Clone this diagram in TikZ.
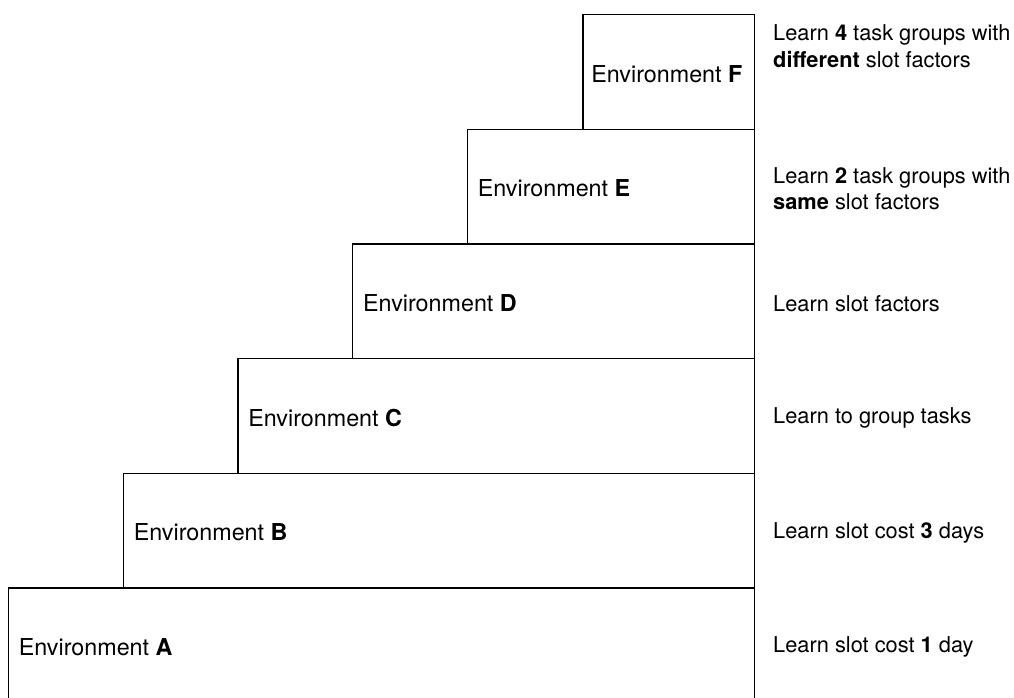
\documentclass[tikz,border=0pt]{standalone}
\usepackage{fontspec}
\setmainfont{TeX Gyre Heros}
\begin{document}
\begin{tikzpicture}[x=1pt,y=-1pt,
  stage/.style={draw, line width=1.4pt, rectangle, inner sep=0pt,
    minimum height=114.7pt, anchor=north east},
  envlabel/.style={anchor=west, inner sep=0pt, font=\fontsize{23.3}{28}\selectfont},
  goal/.style={anchor=west, align=left, inner sep=0pt, font=\fontsize{21.8}{26.5}\selectfont}]
\useasboundingbox (0,0) rectangle (1014,697);
\begin{scope}
  \clip (0,0) rectangle (1014,697);
  % staircase of environments, all sharing the right edge
  \node[stage, minimum width=746pt] (A) at (755,587.3) {};
  \node[stage, minimum width=631pt] (B) at (755,472.6) {};
  \node[stage, minimum width=516.5pt] (C) at (755,357.9) {};
  \node[stage, minimum width=401.7pt] (D) at (755,243.2) {};
  \node[stage, minimum width=287pt] (E) at (755,128.5) {};
  \node[stage, minimum width=171.5pt] (F) at (755,13.8) {};
\end{scope}
% environment names
\node[envlabel] (lA) at ([xshift=11pt,yshift=-2pt]A.west) {Environment \textbf{A}};
\node[envlabel] (lB) at ([xshift=11pt,yshift=-2pt]B.west) {Environment \textbf{B}};
\node[envlabel] (lC) at ([xshift=11pt,yshift=-2pt]C.west) {Environment \textbf{C}};
\node[envlabel] (lD) at ([xshift=11pt,yshift=-2pt]D.west) {Environment \textbf{D}};
\node[envlabel] (lE) at ([xshift=11pt,yshift=-2pt]E.west) {Environment \textbf{E}};
\node[envlabel] (lF) at ([xshift=9pt,yshift=-2pt]F.west) {Environment \textbf{F}};
% what is learned in each environment
\node[goal] (gA) at ([xshift=18pt,yshift=-2pt]A.east) {Learn slot cost \textbf{1} day};
\node[goal] (gB) at ([xshift=18pt,yshift=-2pt]B.east) {Learn slot cost \textbf{3} days};
\node[goal] (gC) at ([xshift=18pt,yshift=-2pt]C.east) {Learn to group tasks};
\node[goal] (gD) at ([xshift=18pt,yshift=-2pt]D.east) {Learn slot factors};
\node[goal] (gE) at ([xshift=18pt,yshift=-2pt]E.east) {Learn \textbf{2} task groups with\\\textbf{same} slot factors};
\node[goal] (gF) at (773,46) {Learn \textbf{4} task groups with\\\textbf{different} slot factors};
\end{tikzpicture}
\end{document}
